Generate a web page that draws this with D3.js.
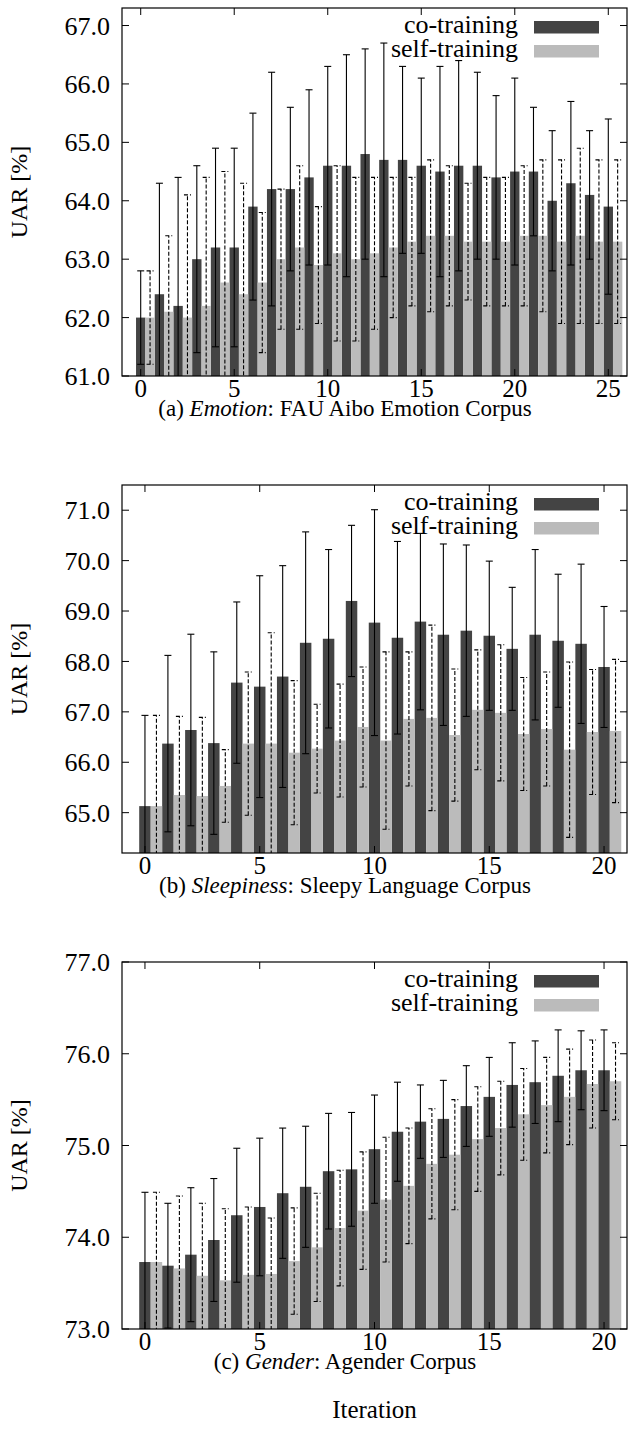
<!DOCTYPE html>
<html>
<head>
<meta charset="utf-8">
<script src="https://cdn.jsdelivr.net/npm/d3@7"></script>
<style>
  body { margin: 0; background: #fff; }
  svg { display: block; }
  text { font-family: "Liberation Serif", "Times New Roman", serif; fill: #000; }
</style>
</head>
<body>
<div id="chart"></div>
<script>
// Data: UAR [%] per iteration, error = half height of the error bar

// (a) Emotion, iterations 0..25
const emotionCo = [62.0, 62.4, 62.2, 63.0, 63.2, 63.2, 63.9, 64.2, 64.2, 64.4, 64.6, 64.6, 64.8,
  64.7, 64.7, 64.6, 64.5, 64.6, 64.6, 64.4, 64.5, 64.5, 64.0, 64.3, 64.1, 63.9];
const emotionCoErr = [0.8, 1.9, 2.2, 1.6, 1.7, 1.7, 1.6, 2.0, 1.4, 1.5, 1.7, 1.9, 1.8,
  2.0, 1.6, 1.5, 1.8, 1.8, 1.6, 1.4, 1.6, 1.1, 1.2, 1.4, 1.1, 1.5];
const emotionSelf = [62.0, 62.1, 62.0, 62.2, 62.6, 62.4, 62.6, 63.0, 63.2, 62.9, 63.1, 63.0, 63.1,
  63.2, 63.3, 63.4, 63.4, 63.3, 63.3, 63.3, 63.4, 63.4, 63.3, 63.4, 63.3, 63.3];
const emotionSelfErr = [0.8, 1.3, 2.1, 2.2, 1.9, 1.9, 1.2, 1.2, 1.4, 1.0, 1.5, 1.4, 1.3,
  1.2, 1.1, 1.3, 1.2, 1.0, 1.1, 1.1, 1.2, 1.3, 1.4, 1.5, 1.4, 1.4];

// (b) Sleepiness, iterations 0..20
const sleepCo = [65.13, 66.37, 66.64, 66.38, 67.58, 67.5, 67.7, 68.37, 68.45, 69.2, 68.77,
  68.47, 68.79, 68.53, 68.61, 68.51, 68.25, 68.53, 68.41, 68.35, 67.89];
const sleepCoErr = [1.8, 1.75, 1.9, 1.81, 1.6, 2.2, 2.2, 2.2, 1.77, 1.5, 2.24,
  1.91, 1.75, 1.8, 1.7, 1.48, 1.22, 1.69, 1.32, 1.58, 1.2];
const sleepSelf = [65.13, 65.35, 65.33, 65.53, 66.37, 66.37, 66.19, 66.27, 66.43, 66.7, 66.43,
  66.86, 66.88, 66.54, 67.04, 66.98, 66.56, 66.66, 66.25, 66.6, 66.62];
const sleepSelfErr = [1.8, 1.56, 1.56, 0.72, 1.42, 2.2, 1.43, 0.88, 1.12, 1.19, 1.76,
  1.33, 1.84, 1.31, 1.19, 1.35, 1.12, 1.13, 1.74, 1.24, 1.42];

// (c) Gender, iterations 0..20
const genderCo = [73.73, 73.69, 73.81, 73.97, 74.24, 74.33, 74.48, 74.55, 74.72, 74.74, 74.96,
  75.15, 75.26, 75.29, 75.43, 75.53, 75.66, 75.69, 75.76, 75.82, 75.82];
const genderCoErr = [0.76, 0.68, 0.73, 0.67, 0.73, 0.75, 0.71, 0.66, 0.63, 0.62, 0.59,
  0.54, 0.4, 0.42, 0.44, 0.43, 0.46, 0.45, 0.5, 0.43, 0.44];
const genderSelf = [73.73, 73.66, 73.58, 73.53, 73.59, 73.6, 73.74, 73.89, 74.1, 74.29, 74.41,
  74.56, 74.8, 74.9, 75.07, 75.19, 75.34, 75.44, 75.53, 75.67, 75.7];
const genderSelfErr = [0.76, 0.79, 0.79, 0.78, 0.74, 0.61, 0.58, 0.59, 0.63, 0.64, 0.68,
  0.63, 0.6, 0.6, 0.57, 0.51, 0.5, 0.52, 0.52, 0.48, 0.42];

const seriesNames = ["co-training", "self-training"];
const xTicksEmotion = [0, 5, 10, 15, 20, 25];
const xTicksOther = [0, 5, 10, 15, 20];
const yTicksEmotion = [61, 62, 63, 64, 65, 66, 67];
const yTicksSleep = [65, 66, 67, 68, 69, 70, 71];
const yTicksGender = [73, 74, 75, 76, 77];

// layout
const W = 628, H = 1435;
const left = 122, right = 627;
const darkFill = "#444444", lightFill = "#bbbbbb";

const panels = [
  { co: emotionCo, coErr: emotionCoErr, self: emotionSelf, selfErr: emotionSelfErr,
    xTicks: xTicksEmotion, yTicks: yTicksEmotion, yDomain: [61, 67.3],
    top: 8, bottom: 376, label: "(a) ", topic: "Emotion", rest: ": FAU Aibo Emotion Corpus" },
  { co: sleepCo, coErr: sleepCoErr, self: sleepSelf, selfErr: sleepSelfErr,
    xTicks: xTicksOther, yTicks: yTicksSleep, yDomain: [64.2, 71.5],
    top: 485, bottom: 853, label: "(b) ", topic: "Sleepiness", rest: ": Sleepy Language Corpus" },
  { co: genderCo, coErr: genderCoErr, self: genderSelf, selfErr: genderSelfErr,
    xTicks: xTicksOther, yTicks: yTicksGender, yDomain: [73, 77],
    top: 962, bottom: 1329, label: "(c) ", topic: "Gender", rest: ": Agender Corpus" }
];

const svg = d3.select("#chart")
  .append("svg")
  .attr("width", W)
  .attr("height", H);

panels.forEach((p, k) => {
  const n = p.co.length;
  const x = d3.scaleLinear().domain([-1, n]).range([left, right]);
  const y = d3.scaleLinear().domain(p.yDomain).range([p.bottom, p.top]);
  const bw = x(0.5) - x(0);

  const g = svg.append("g");

  const clipId = "clip" + k;
  svg.append("clipPath").attr("id", clipId)
    .append("rect")
    .attr("x", left).attr("y", p.top)
    .attr("width", right - left).attr("height", p.bottom - p.top);

  const plot = g.append("g").attr("clip-path", `url(#${clipId})`);

  // bars: co-training centred on the tick, self-training right next to it
  const series = [
    { vals: p.co, errs: p.coErr, off: 0, fill: darkFill, dash: null },
    { vals: p.self, errs: p.selfErr, off: 0.5, fill: lightFill, dash: "4,2" }
  ];

  series.forEach(s => {
    plot.selectAll(null)
      .data(s.vals)
      .join("rect")
      .attr("x", (d, i) => x(i + s.off) - bw / 2)
      .attr("y", d => y(d))
      .attr("width", bw)
      .attr("height", d => p.bottom - y(d) + 2)
      .attr("fill", s.fill);
  });

  series.forEach(s => {
    const eb = plot.append("g")
      .attr("stroke", "#000")
      .attr("stroke-width", 1.1)
      .attr("fill", "none");
    if (s.dash) eb.attr("stroke-dasharray", s.dash);
    s.vals.forEach((v, i) => {
      const cx = x(i + s.off);
      const lo = y(v - s.errs[i]), hi = y(v + s.errs[i]);
      eb.append("line").attr("x1", cx).attr("x2", cx).attr("y1", lo).attr("y2", hi);
      eb.append("line").attr("x1", cx - 3.5).attr("x2", cx + 3.5).attr("y1", hi).attr("y2", hi);
      eb.append("line").attr("x1", cx - 3.5).attr("x2", cx + 3.5).attr("y1", lo).attr("y2", lo);
    });
  });

  // frame and inward ticks on all sides
  g.append("rect")
    .attr("x", left).attr("y", p.top)
    .attr("width", right - left).attr("height", p.bottom - p.top)
    .attr("fill", "none").attr("stroke", "#000").attr("stroke-width", 1.2);

  const tickLen = 7;
  g.selectAll(null).data(p.xTicks).join("path")
    .attr("d", d => `M${x(d)},${p.bottom}v${-tickLen}M${x(d)},${p.top}v${tickLen}`)
    .attr("stroke", "#000").attr("stroke-width", 1);
  g.selectAll(null).data(p.yTicks).join("path")
    .attr("d", d => `M${left},${y(d)}h${tickLen}M${right},${y(d)}h${-tickLen}`)
    .attr("stroke", "#000").attr("stroke-width", 1);

  g.selectAll(null).data(p.xTicks).join("text")
    .attr("x", d => x(d))
    .attr("y", p.bottom + 21)
    .attr("text-anchor", "middle")
    .style("font-size", "25px")
    .text(d => d);

  g.selectAll(null).data(p.yTicks).join("text")
    .attr("x", left - 12)
    .attr("y", d => y(d))
    .attr("dy", "0.35em")
    .attr("text-anchor", "end")
    .style("font-size", "26px")
    .text(d => d3.format(".1f")(d));

  // y label
  g.append("text")
    .attr("transform", `translate(27,${(p.top + p.bottom) / 2}) rotate(-90)`)
    .attr("text-anchor", "middle")
    .style("font-size", "24px")
    .text("UAR [%]");

  // legend
  [darkFill, lightFill].forEach((c, j) => {
    g.append("text")
      .attr("x", 518)
      .attr("y", p.top + 25 + j * 24)
      .attr("text-anchor", "end")
      .style("font-size", "26px")
      .text(seriesNames[j]);
    g.append("rect")
      .attr("x", 534).attr("y", p.top + 13 + j * 24)
      .attr("width", 65).attr("height", 12.5)
      .attr("fill", c);
  });

  // caption
  const cap = g.append("text")
    .attr("x", 345)
    .attr("y", p.bottom + 40)
    .attr("text-anchor", "middle")
    .style("font-size", "23px");
  cap.append("tspan").text(p.label);
  cap.append("tspan").style("font-style", "italic").text(p.topic);
  cap.append("tspan").text(p.rest);
});

svg.append("text")
  .attr("x", (left + right) / 2)
  .attr("y", 1418)
  .attr("text-anchor", "middle")
  .style("font-size", "25px")
  .text("Iteration");
</script>
</body>
</html>
